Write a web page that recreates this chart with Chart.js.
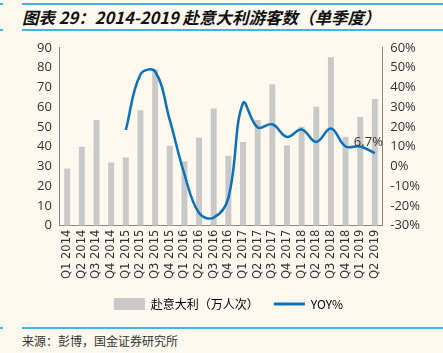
<!DOCTYPE html>
<html>
<head>
<meta charset="utf-8">
<script src="https://cdn.jsdelivr.net/npm/chart.js@4"></script>
<style>
  html, body { margin: 0; padding: 0; background: #fdf9ef; }
  #wrap { position: relative; width: 443px; height: 353px; overflow: hidden; background: #fdf9ef; }
  .rule { position: absolute; height: 2px; background: #41b6e6; }
  #title { position: absolute; left: 22px; top: 5px; font: italic bold 16.5px "Noto Sans CJK SC", sans-serif; color: #111; white-space: nowrap; }
  #source { position: absolute; left: 22px; top: 332px; font: 12px "Noto Sans CJK SC", sans-serif; color: #333; white-space: nowrap; }
  #chartBox { position: absolute; left: 0; top: 36px; width: 443px; height: 284px; }
</style>
</head>
<body>
<div id="wrap">
  <div class="rule" style="left:0;width:3px;top:3px"></div>
  <div class="rule" style="left:22px;right:0;top:3px"></div>
  <div id="title">图表 29：2014-2019 赴意大利游客数（单季度）</div>
  <div class="rule" style="left:0;width:3px;top:29px"></div>
  <div class="rule" style="left:22px;right:0;top:29px"></div>
  <div id="chartBox"><canvas id="tourChart"></canvas></div>
  <div class="rule" style="left:0;width:3px;top:327px"></div>
  <div class="rule" style="left:22px;right:0;top:327px"></div>
  <div id="source">来源：彭博，国金证券研究所</div>
</div>
<script>
// 季度标签
const quarters = ['Q1 2014', 'Q2 2014', 'Q3 2014', 'Q4 2014',
                  'Q1 2015', 'Q2 2015', 'Q3 2015', 'Q4 2015',
                  'Q1 2016', 'Q2 2016', 'Q3 2016', 'Q4 2016',
                  'Q1 2017', 'Q2 2017', 'Q3 2017', 'Q4 2017',
                  'Q1 2018', 'Q2 2018', 'Q3 2018', 'Q4 2018',
                  'Q1 2019', 'Q2 2019'];

// 赴意大利游客（万人次）
const visitors = [29, 40, 53.5, 32,
                  34.5, 58.4, 79, 40.4,
                  32.6, 44.6, 59.3, 35.4,
                  42.4, 53.5, 71.6, 40.7,
                  50.1, 60.2, 85.2, 45,
                  55, 64.1];

// 同比增速 %
const yoy = [null, null, null, null,
             18.4, 46.5, 48, 23.5,
             -3.9, -23.6, -25.9, -15.9,
             32, 19.7, 21.3, 14.9,
             18.7, 12.4, 19.2, 10.1,
             10.1, 6.7];

const lastLabel = '6.7%';

// 在最后一个点上标注数值
const lastPointLabel = {
    id: 'lastPointLabel',
    afterDatasetsDraw(chart) {
        const meta = chart.getDatasetMeta(1);
        const pt = meta.data[meta.data.length - 1];
        const ctx = chart.ctx;
        ctx.save();
        ctx.font = '13px "Open Sans", sans-serif';
        ctx.fillStyle = '#333';
        ctx.textAlign = 'right';
        ctx.textBaseline = 'middle';
        ctx.fillText(lastLabel, pt.x + 8, pt.y - 11);
        ctx.restore();
    }
};

const tickFont = { family: '"Open Sans", sans-serif', size: 13 };

const ctx = document.getElementById('tourChart').getContext('2d');
new Chart(ctx, {
    data: {
        labels: quarters,
        datasets: [{
            type: 'bar',
            label: '赴意大利（万人次）',
            data: visitors,
            backgroundColor: '#c9c9c9',
            barPercentage: 0.45,
            categoryPercentage: 0.9,
            yAxisID: 'y',
            order: 2
        }, {
            type: 'line',
            label: 'YOY%',
            data: yoy,
            borderColor: '#0a70c0',
            backgroundColor: '#0a70c0',
            borderWidth: 2.5,
            pointRadius: 0,
            tension: 0.4,
            yAxisID: 'y1',
            order: 1
        }]
    },
    options: {
        responsive: true,
        maintainAspectRatio: false,
        animation: false,
        layout: { padding: { left: 33, right: 19, top: 8, bottom: 0 } },
        plugins: {
            tooltip: { enabled: false },
            legend: {
                position: 'bottom',
                labels: {
                    usePointStyle: true,
                    pointStyleWidth: 31,
                    boxHeight: 12,
                    padding: 15,
                    color: '#333',
                    font: { family: '"Noto Sans CJK SC", sans-serif', size: 12 },
                    generateLabels(chart) {
                        return [{
                            text: '赴意大利（万人次）',
                            fillStyle: '#c9c9c9',
                            strokeStyle: '#c9c9c9',
                            lineWidth: 0,
                            pointStyle: 'rect',
                            datasetIndex: 0
                        }, {
                            text: 'YOY%',
                            fillStyle: '#0a70c0',
                            strokeStyle: '#0a70c0',
                            lineWidth: 3,
                            pointStyle: 'line',
                            datasetIndex: 1
                        }];
                    }
                }
            }
        },
        scales: {
            x: {
                grid: { display: false, drawTicks: false },
                border: { color: '#888' },
                ticks: {
                    color: '#333',
                    font: { family: '"DejaVu Sans", sans-serif', size: 11.5 },
                    minRotation: 90,
                    maxRotation: 90,
                    autoSkip: false,
                    padding: 4
                }
            },
            y: {
                position: 'left',
                min: 0, max: 90,
                grid: { display: false, drawTicks: true, tickLength: 4, tickColor: '#888' },
                border: { color: '#888' },
                ticks: { stepSize: 10, color: '#333', font: tickFont, padding: 4 }
            },
            y1: {
                position: 'right',
                min: -30, max: 60,
                grid: { display: false, drawOnChartArea: false, drawTicks: true, tickLength: 4, tickColor: '#888' },
                border: { color: '#888' },
                ticks: {
                    stepSize: 10, color: '#333', font: tickFont, padding: 4,
                    callback: v => v + '%'
                }
            }
        }
    },
    plugins: [lastPointLabel]
});
</script>
</body>
</html>
